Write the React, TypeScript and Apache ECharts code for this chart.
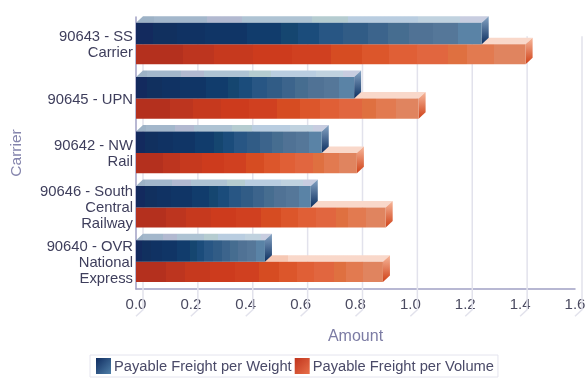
import React, { useEffect, useRef } from "react";
import * as echarts from "echarts";

const categories = [
  "90643 - SS\nCarrier",
  "90645 - UPN",
  "90642 - NW\nRail",
  "90646 - South\nCentral\nRailway",
  "90640 - OVR\nNational\nExpress",
];
const weightValues = [1.26, 0.795, 0.677, 0.637, 0.47];
const volumeValues = [1.42, 1.03, 0.805, 0.91, 0.9];
const tickValues = [0, 0.2, 0.4, 0.6, 0.8, 1.0, 1.2, 1.4, 1.6];
const seriesNames = ["Payable Freight per Weight", "Payable Freight per Volume"];

const DEPTH_X = 7;
const DEPTH_Y = 6.5;

function bands(list: [number, string][]) {
  const stops: { offset: number; color: string }[] = [];
  list.forEach(([end, color], i) => {
    const start = i === 0 ? 0 : list[i - 1][0];
    stops.push({ offset: start, color }, { offset: end, color });
  });
  return stops;
}

const blueFront = bands([
  [0.05, "#132a5e"], [0.12, "#11305f"], [0.2, "#103263"], [0.32, "#103566"], [0.42, "#113c6c"],
  [0.47, "#154670"], [0.53, "#1b4c7b"], [0.6, "#285684"], [0.67, "#315c86"], [0.73, "#3c648c"],
  [0.79, "#466d90"], [0.86, "#507295"], [0.93, "#557799"], [1, "#5a83a6"],
]);
const blueTop = bands([
  [0.05, "#9db2c6"], [0.2, "#a3b7cb"], [0.3, "#b2b9d0"], [0.5, "#aec3d3"], [0.6, "#b5ccd0"],
  [0.8, "#b9cde0"], [0.92, "#c0d2df"], [1, "#c8cde0"],
]);
const redFront = bands([
  [0.12, "#b4301e"], [0.2, "#bd351f"], [0.3, "#c6391e"], [0.4, "#cd3b1d"], [0.5, "#d04020"],
  [0.58, "#d64c22"], [0.65, "#dc562b"], [0.72, "#e05f36"], [0.8, "#e1663f"], [0.85, "#df7040"],
  [0.92, "#e27a50"], [1, "#e0845f"],
]);
const redTop = bands([[0.6, "#f6c8b4"], [1, "#f9d8ca"]]);

const vertical = (top: string, bottom: string) =>
  new echarts.graphic.LinearGradient(0, 0, 0, 1, [
    { offset: 0, color: top },
    { offset: 1, color: bottom },
  ]);

function barSeries(name: string, values: number[], isUpper: boolean, palette: any, z: number) {
  const front = new echarts.graphic.LinearGradient(0, 0, 1, 0, palette.front);
  const top = new echarts.graphic.LinearGradient(0, 0, 1, 0, palette.top);
  const side = vertical(palette.sideTop, palette.sideBottom);
  return {
    type: "custom",
    name,
    z,
    clip: false,
    itemStyle: { color: palette.legend },
    encode: { x: 0, y: 1 },
    data: values.map((v, i) => [v, i]),
    renderItem: (_: any, api: any) => {
      const end = api.coord([api.value(0), api.value(1)]);
      const start = api.coord([0, api.value(1)]);
      const h = api.size([0, 1])[1] * (isUpper ? 0.395 : 0.37);
      const y0 = isUpper ? end[1] - h : end[1];
      const y1 = y0 + h;
      return {
        type: "group",
        children: [
          {
            type: "polygon",
            shape: { points: [[start[0], y0], [start[0] + DEPTH_X, y0 - DEPTH_Y], [end[0] + DEPTH_X, y0 - DEPTH_Y], [end[0], y0]] },
            style: { fill: top },
          },
          {
            type: "polygon",
            shape: { points: [[end[0], y0], [end[0] + DEPTH_X, y0 - DEPTH_Y], [end[0] + DEPTH_X, y1 - DEPTH_Y], [end[0], y1]] },
            style: { fill: side },
          },
          { type: "rect", shape: { x: start[0], y: y0, width: end[0] - start[0], height: h }, style: { fill: front } },
        ],
      };
    },
  };
}

export default function App() {
  const ref = useRef<HTMLDivElement>(null);
  useEffect(() => {
    document.body.style.margin = "0";
    const chart = echarts.init(ref.current!, undefined, { renderer: "svg" });
    const font = "Liberation Sans";
    chart.setOption({
      animation: false,
      backgroundColor: "#ffffff",
      grid: { left: 136, right: 10, top: 17, bottom: 90, containLabel: false, outerBoundsMode: "none" },
      legend: {
        left: 90,
        top: 355,
        padding: [3, 4, 3, 6],
        borderColor: "#e4e4ee",
        borderWidth: 1,
        icon: "rect",
        itemWidth: 15,
        itemHeight: 16,
        itemGap: 3,
        data: seriesNames,
        textStyle: { fontFamily: font, fontSize: 14.7, color: "#4a4a68", padding: [0, 0, 0, -2] },
      },
      xAxis: {
        type: "value",
        min: 0,
        max: 1.6,
        interval: 0.2,
        name: "Amount",
        nameLocation: "middle",
        nameGap: 38,
        nameTextStyle: { fontFamily: font, fontSize: 16, color: "#7c7ca4" },
        axisLine: { show: true, lineStyle: { color: "#a0a0c4", width: 1.5 } },
        axisTick: { show: false },
        splitLine: { show: false },
        axisLabel: { fontFamily: font, fontSize: 15, color: "#4a4a60", margin: 7, hideOverlap: false, formatter: (v: number) => v.toFixed(1) },
      },
      yAxis: {
        type: "category",
        inverse: true,
        data: categories,
        name: "Carrier",
        nameLocation: "middle",
        nameGap: 113,
        nameTextStyle: { fontFamily: font, fontSize: 15.5, color: "#8484ac" },
        axisLine: { show: true, lineStyle: { color: "#a0a0c4", width: 1.5 } },
        axisTick: { show: false },
        axisLabel: { fontFamily: font, fontSize: 14.8, lineHeight: 16, color: "#3e3e5c", margin: 3, align: "right" },
      },
      series: [
        {
          type: "custom",
          z: 1,
          clip: false,
          silent: true,
          legendHoverLink: false,
          encode: { x: 0 },
          data: tickValues.map((t) => [t]),
          renderItem: (params: any, api: any) => {
            const bottom = api.coord([api.value(0), categories.length - 0.5]);
            const top = api.coord([api.value(0), -0.5]);
            return {
              type: "polyline",
              shape: {
                points: [
                  [bottom[0], bottom[1]],
                  [bottom[0] + DEPTH_X, bottom[1] - DEPTH_Y],
                  [bottom[0] + DEPTH_X, top[1] - 8],
                ],
              },
              style: { fill: "none", stroke: "#e2e2ec", lineWidth: 1.5 },
            };
          },
        },
        barSeries(seriesNames[1], volumeValues, false, {
          front: redFront,
          top: redTop,
          sideTop: "#f7b89c",
          sideBottom: "#cf4016",
          legend: new echarts.graphic.LinearGradient(0, 0, 1, 1, [
            { offset: 0, color: "#c0331c" },
            { offset: 1, color: "#e8704a" },
          ]),
        }, 3),
        barSeries(seriesNames[0], weightValues, true, {
          front: blueFront,
          top: blueTop,
          sideTop: "#86a4c4",
          sideBottom: "#0c2f60",
          legend: new echarts.graphic.LinearGradient(0, 0, 1, 1, [
            { offset: 0, color: "#0f2c60" },
            { offset: 1, color: "#4f7fa8" },
          ]),
        }, 4),
      ],
    });
    return () => chart.dispose();
  }, []);
  return <div ref={ref} style={{ width: 585, height: 379, filter: "blur(0.4px)" }} />;
}
